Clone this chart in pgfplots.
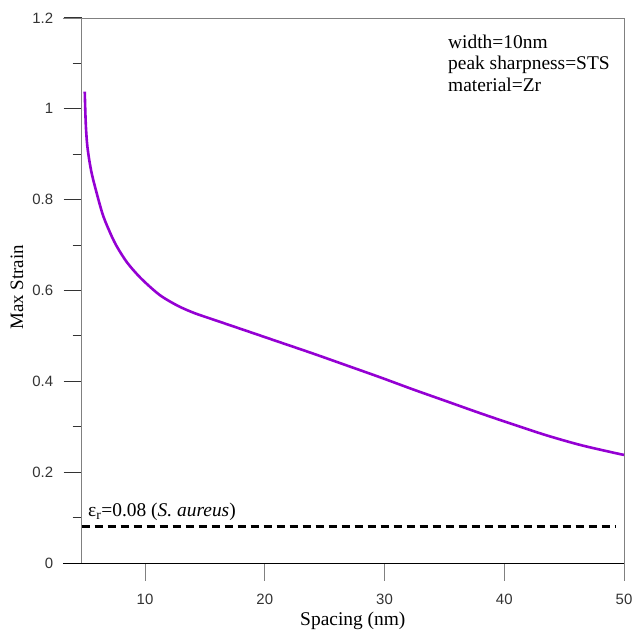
\documentclass[border=0pt]{standalone}
\usepackage{fontspec}
\setmainfont{Liberation Serif}
\newfontfamily\arial{Liberation Sans}
\usepackage{pgfplots}
\pgfplotsset{compat=1.18}
\definecolor{curvepurple}{RGB}{148,0,211}
\definecolor{axgray}{RGB}{128,128,128}
\begin{document}
\begin{tikzpicture}
\begin{axis}[
  scale only axis,
  width=542.3bp, height=545bp,
  xmin=4.71, xmax=50, ymin=0, ymax=1.2,
  xtick={10,20,30,40,50},
  ytick={0,0.2,0.4,0.6,0.8,1,1.2},
  yticklabels={0,0.2,0.4,0.6,0.8,1,1.2},
  xticklabels={10,20,30,40,50},
  minor ytick={0.1,0.3,0.5,0.7,0.9,1.1},
  xtick pos=bottom, ytick pos=left,
  tick align=outside,
  major tick length=18bp, minor tick length=9bp,
  x tick style={axgray, line width=1bp},
  y tick style={black!80, line width=1bp},
  axis line style={draw=none},
  /pgf/number format/assume math mode=true,
  tick label style={font=\arial\fontsize{15}{18}\selectfont, text=black!80},
  xticklabel style={yshift=-10bp},
  yticklabel style={xshift=-7bp},
  xlabel={Spacing (nm)},
  ylabel={Max Strain},
  every axis x label/.style={at={(rel axis cs:0.5,0)}, yshift=-62bp, anchor=base, font=\fontsize{19.5}{22}\selectfont},
  every axis y label/.style={at={(rel axis cs:0,0.506)}, xshift=-64.7bp, rotate=90, anchor=center, font=\fontsize{19}{22}\selectfont},
  clip=false,
]
\draw[axgray, line width=0.9bp] (rel axis cs:0,0) -- (rel axis cs:0,1);
\draw[axgray, line width=0.9bp] (rel axis cs:-0.0345,1) -- (rel axis cs:1,1);
\draw[axgray, line width=0.9bp] (rel axis cs:1,0) -- (rel axis cs:1,1);
\draw[black, line width=0.9bp] (rel axis cs:-0.0345,0) -- (rel axis cs:1,0);

\addplot[curvepurple, line width=2.6bp, smooth, tension=0.5] coordinates {
(4.965,1.038) (5.015,0.992) (5.073,0.955) (5.18,0.918) (5.38,0.881)
(5.66,0.845) (6.41,0.772) (6.97,0.734) (7.60,0.699) (8.52,0.661)
(9.69,0.626) (11.23,0.590) (12.76,0.566) (14.15,0.550) (15.70,0.536)
(18.49,0.511) (21.27,0.486) (24.05,0.461) (26.84,0.435) (29.62,0.409)
(32.40,0.382) (35.19,0.356) (37.97,0.330) (40.76,0.305) (43.54,0.281)
(46.33,0.260) (49.11,0.243) (50,0.238)
};
\addplot[black, line width=2.4bp, dash pattern=on 8bp off 5bp] coordinates {(4.71,0.08) (49.3,0.08)};

\node[anchor=base west, inner sep=0pt, font=\fontsize{19.5}{22}\selectfont] at (axis cs:5.24,0.102) {ε\textsubscript{r}=0.08 (\textit{S. aureus})};
\node[anchor=north west, inner sep=0pt, align=left, font=\fontsize{19.5}{22}\selectfont] at (axis cs:35.3,1.164) {width=10nm\\peak sharpness=STS\\material=Zr};
\end{axis}
\pgfresetboundingbox
\path[use as bounding box] (-81.7bp,-68bp) rectangle (551.3bp,563bp);
\end{tikzpicture}
\end{document}
